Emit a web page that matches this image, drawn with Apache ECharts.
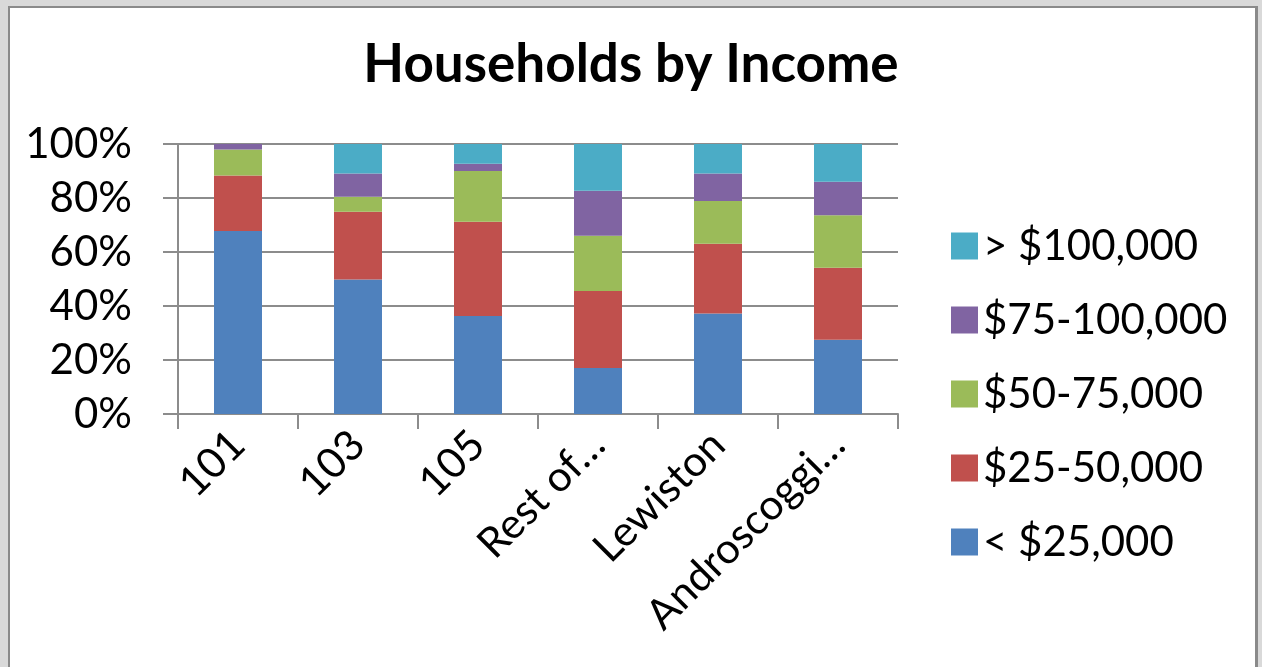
<!DOCTYPE html>
<html>
<head>
<meta charset="utf-8">
<script src="https://cdn.jsdelivr.net/npm/echarts@6/dist/echarts.min.js"></script>
<style>
html,body{margin:0;padding:0;width:1262px;height:667px;overflow:hidden;background:#d9d9d9;}
#frame{position:absolute;left:8px;top:6px;width:1245px;height:700px;background:#fff;border-left:2px solid #8a8a8a;border-top:2px solid #8a8a8a;border-right:3px solid #8a8a8a;}
#chart{position:absolute;left:0;top:0;width:1262px;height:667px;}
</style>
</head>
<body>
<div id="frame"></div>
<div id="chart"></div>
<script>
const categories = ['101', '103', '105', 'Rest of…', 'Lewiston', 'Androscoggi…'];
const seriesNames = ['< $25,000', '$25-50,000', '$50-75,000', '$75-100,000', '> $100,000'];
const under25 = [67.8, 49.8, 36.3, 17.0, 37.2, 27.5];
const from25to50 = [20.5, 25.1, 34.9, 28.6, 25.9, 26.7];
const from50to75 = [9.7, 5.6, 18.8, 20.4, 15.8, 19.4];
const from75to100 = [2.0, 8.6, 2.7, 16.7, 10.2, 12.4];
const over100 = [0.0, 10.9, 7.3, 17.3, 10.9, 14.0];
const yTicks = [0, 20, 40, 60, 80, 100];

const colors = ['#4F81BD', '#C0504D', '#9BBB59', '#8064A2', '#4BACC6'];
const values = [under25, from25to50, from50to75, from75to100, over100];
const font = 'Lato, "Open Sans", sans-serif';

const chart = echarts.init(document.getElementById('chart'), null, {renderer: 'canvas'});
chart.setOption({
  backgroundColor: 'transparent',
  animation: false,
  color: colors,
  title: {
    text: 'Households by Income',
    left: 'center',
    top: 33,
    textStyle: {fontFamily: font, fontWeight: 'bold', fontSize: 53, color: '#000'}
  },
  legend: {
    orient: 'vertical',
    left: 946,
    top: 220,
    itemWidth: 27,
    itemHeight: 27,
    itemGap: 32,
    icon: 'rect',
    data: seriesNames.slice().reverse(),
    textStyle: {fontFamily: font, fontSize: 42, lineHeight: 42, color: '#000', padding: [0, 0, 0, 0]}
  },
  grid: {left: 178, right: 364, top: 144, bottom: 253, containLabel: false},
  xAxis: {
    type: 'category',
    data: categories,
    axisLine: {show: true, lineStyle: {color: '#8c8c8c', width: 2}},
    axisTick: {show: true, length: 15, lineStyle: {color: '#8c8c8c', width: 2}},
    axisLabel: {rotate: 45, margin: 24, fontFamily: font, fontSize: 42, color: '#000'}
  },
  yAxis: {
    type: 'value',
    min: 0, max: 100, interval: 20,
    axisLine: {show: true, lineStyle: {color: '#8c8c8c', width: 2}},
    axisTick: {show: true, length: 15, lineStyle: {color: '#8c8c8c', width: 2}},
    splitLine: {show: true, lineStyle: {color: '#8c8c8c', width: 2}},
    axisLabel: {
      margin: 46, fontFamily: font, fontSize: 42, color: '#000',
      formatter: v => yTicks.includes(v) ? v + '%' : ''
    }
  },
  series: seriesNames.map((name, i) => ({
    name: name,
    type: 'bar',
    stack: 'total',
    barWidth: 48,
    data: values[i],
    itemStyle: {color: colors[i]}
  }))
});
</script>
</body>
</html>
